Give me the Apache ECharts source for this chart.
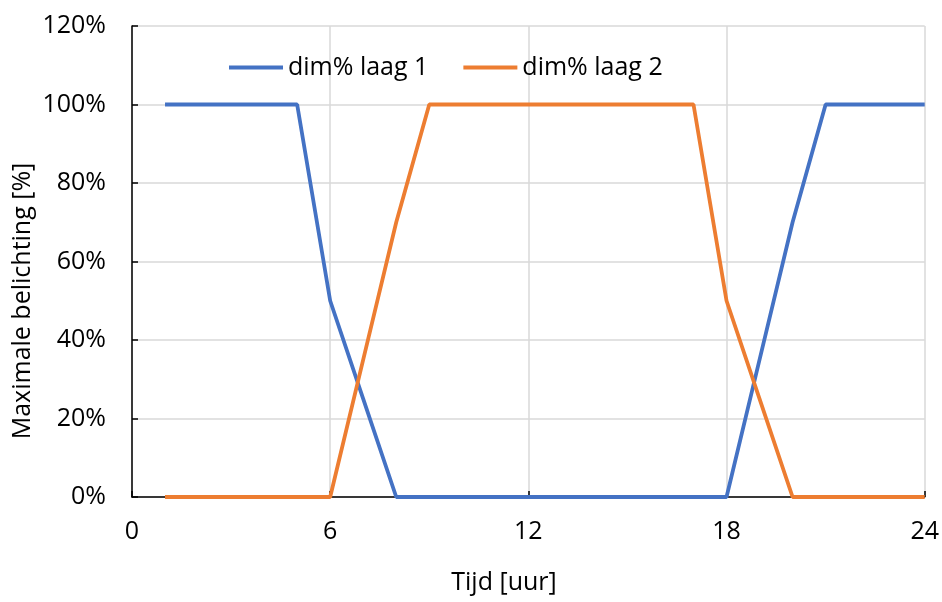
<!DOCTYPE html>
<html>
<head>
<meta charset="utf-8">
<script src="https://cdn.jsdelivr.net/npm/echarts@6/dist/echarts.min.js"></script>
<style>html,body{margin:0;padding:0;background:#fff}#c{width:942px;height:602px}</style>
</head>
<body>
<div id="c"></div>
<script>
var hours = [1,2,3,4,5,6,7,8,9,10,11,12,13,14,15,16,17,18,19,20,21,22,23,24];
var laag1 = [1,1,1,1,1,0.5,0.25,0,0,0,0,0,0,0,0,0,0,0,0.35,0.7,1,1,1,1];
var laag2 = [0,0,0,0,0,0,0.35,0.7,1,1,1,1,1,1,1,1,1,0.5,0.25,0,0,0,0,0];
var seriesNames = ['dim% laag 1','dim% laag 2'];
var xTicks = [0,6,12,18,24];
var yTicks = [0,0.2,0.4,0.6,0.8,1.0,1.2];
var xTitle = 'Tijd [uur]';
var yTitle = 'Maximale belichting [%]';

function pairs(v){ return hours.map(function(h,i){ return [h, v[i]]; }); }
var font = 'Open Sans';
var chart = echarts.init(document.getElementById('c'));
chart.setOption({
  animation:false,
  textStyle:{fontFamily:font},
  grid:{left:132,right:16,top:26,bottom:105,containLabel:false},
  legend:{
    top:50, left:224, itemWidth:54, itemHeight:4, itemGap:35,
    icon:'rect',
    textStyle:{fontFamily:font,fontSize:25,color:'#000'},
    data:seriesNames
  },
  xAxis:{
    type:'value', min:xTicks[0], max:xTicks[xTicks.length-1], interval:6,
    axisLine:{show:true,lineStyle:{color:'#000',width:1.5}},
    axisTick:{show:true,inside:true,length:6,lineStyle:{color:'#000',width:1.5}},
    axisLabel:{fontFamily:font,fontSize:25,color:'#000',margin:22},
    splitLine:{show:true,lineStyle:{color:'#d9d9d9',width:1.5}}
  },
  yAxis:{
    type:'value', min:yTicks[0], max:yTicks[yTicks.length-1], interval:0.2,
    axisLine:{show:true,lineStyle:{color:'#000',width:1.5}},
    axisTick:{show:true,inside:true,length:6,lineStyle:{color:'#000',width:1.5}},
    axisLabel:{fontFamily:font,fontSize:25,color:'#000',margin:26,
      formatter:function(v){return Math.round(v*100)+'%';}},
    splitLine:{show:true,lineStyle:{color:'#d9d9d9',width:1.5}}
  },
  graphic:[
    {type:'text', x:504, y:583,
     style:{text:xTitle, fontFamily:font, fontSize:25, fill:'#000', align:'center', verticalAlign:'middle'}},
    {type:'text', x:23, y:301, rotation:Math.PI/2,
     style:{text:yTitle, fontFamily:font, fontSize:25, fill:'#000', align:'center', verticalAlign:'middle'}}
  ],
  series:[
    {name:seriesNames[0], type:'line', data:pairs(laag1), showSymbol:false, symbol:'none',
     lineStyle:{color:'#4472C4',width:3.8}, itemStyle:{color:'#4472C4'}, z:3},
    {name:seriesNames[1], type:'line', data:pairs(laag2), showSymbol:false, symbol:'none',
     lineStyle:{color:'#ED7D31',width:3.8}, itemStyle:{color:'#ED7D31'}, z:4}
  ]
});
</script>
</body>
</html>
